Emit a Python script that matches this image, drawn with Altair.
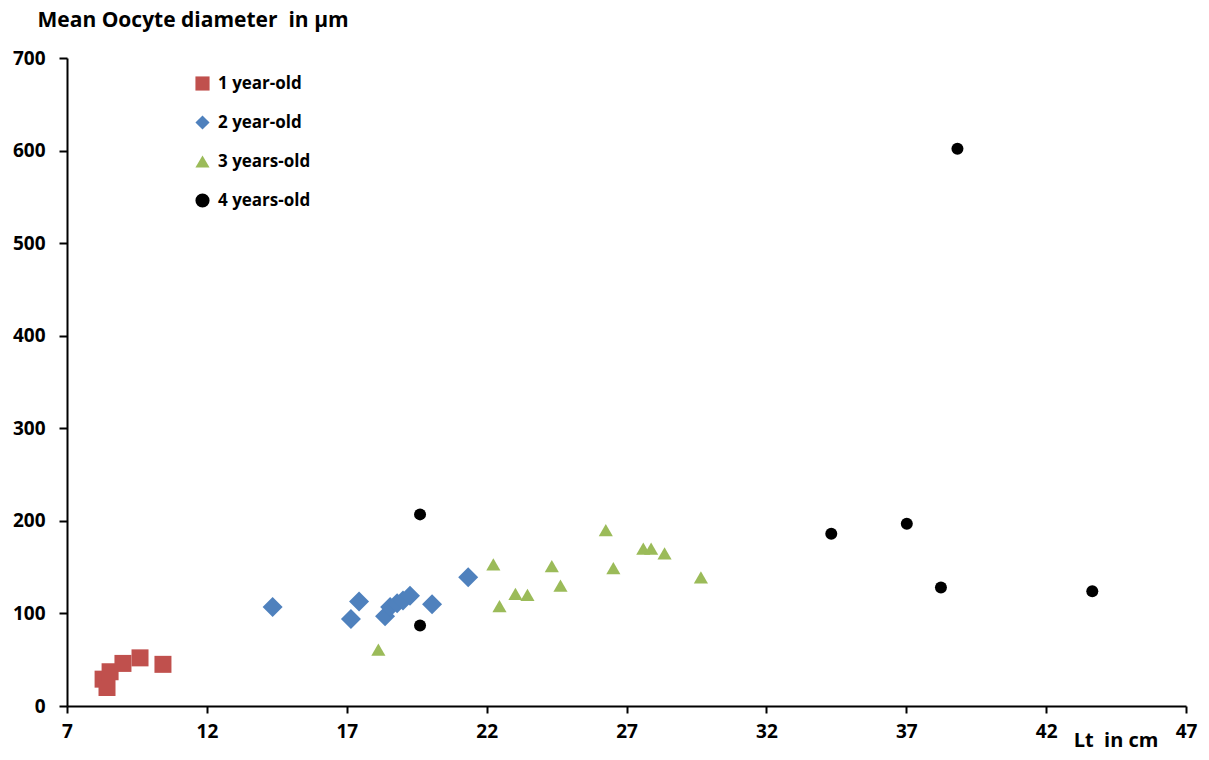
import altair as alt
import pandas as pd

groups = ["1 year-old", "2 year-old", "3 years-old", "4 years-old"]
colors = ["#C0504D", "#4F81BD", "#9BBB59", "#000000"]
shapes = ["square", "diamond", "triangle-up", "circle"]
sizes = [289, 400, 200, 144]

x1 = [8.29, 8.43, 8.54, 9.0, 9.61, 10.43]
y1 = [29, 20, 37, 46, 52, 45]

x2 = [14.35, 17.15, 17.44, 18.37, 18.55, 18.80, 19.01, 19.26, 20.05, 21.34]
y2 = [107, 94, 113, 97, 107, 111, 114, 119, 110, 139]

x3 = [18.13, 22.24, 22.46, 23.03, 23.46, 24.33, 24.64, 26.26, 26.53, 27.6, 27.88, 28.36, 29.66]
y3 = [61, 153, 108, 121, 120, 151, 130, 190, 149, 170, 170, 165, 139]

x4 = [19.62, 19.62, 34.32, 37.02, 38.24, 38.83, 43.65]
y4 = [207, 87, 186, 197, 128, 602, 124]

x_ticks = [7, 12, 17, 22, 27, 32, 37, 42, 47]
y_ticks = [0, 100, 200, 300, 400, 500, 600, 700]

rows = []
for g, xs, ys in zip(groups, [x1, x2, x3, x4], [y1, y2, y3, y4]):
    for a, b in zip(xs, ys):
        rows.append({"group": g, "Lt": a, "D": b})
df = pd.DataFrame(rows)

FONT = "Open Sans"

x_enc = alt.X("Lt:Q",
              scale=alt.Scale(domain=[7, 47], nice=False, zero=False),
              axis=alt.Axis(values=x_ticks, title="Lt\u00a0 in cm", grid=False,
                            domainColor="black", domainWidth=2, tickColor="black",
                            tickWidth=2, tickSize=7, labelPadding=9,
                            labelFont=FONT, labelFontSize=19, labelFontWeight="bold",
                            labelColor="black",
                            titleFont=FONT, titleFontSize=20, titleFontWeight="bold",
                            titleColor="black", titleX=1091, titleY=34,
                            titleAlign="right", titleBaseline="middle"))
y_enc = alt.Y("D:Q",
              scale=alt.Scale(domain=[0, 700], nice=False),
              axis=alt.Axis(values=y_ticks, title="Mean Oocyte diameter\u00a0 in µm", grid=False,
                            domainColor="black", domainWidth=2, tickColor="black",
                            tickWidth=2, tickSize=8, labelPadding=14,
                            labelFont=FONT, labelFontSize=19, labelFontWeight="bold",
                            labelColor="black",
                            titleFont=FONT, titleFontSize=21, titleFontWeight="bold",
                            titleColor="black", titleAngle=0, titleX=-30, titleY=-38,
                            titleAlign="left", titleBaseline="middle"))
color_enc = alt.Color("group:N", scale=alt.Scale(domain=groups, range=colors),
                      legend=alt.Legend(title=None, orient="none", legendX=127, legendY=17,
                                        labelFont=FONT, labelFontSize=17,
                                        labelFontWeight="bold", labelColor="black",
                                        symbolSize=200, rowPadding=21, labelOffset=7))
shape_enc = alt.Shape("group:N", scale=alt.Scale(domain=groups, range=shapes))

layers = []
for g, s in zip(groups, sizes):
    layers.append(
        alt.Chart(df).transform_filter(alt.datum.group == g)
        .mark_point(filled=True, opacity=1, strokeWidth=0, size=s)
        .encode(x=x_enc, y=y_enc, color=color_enc, shape=shape_enc)
    )

chart = alt.layer(*layers).properties(
    width=1119, height=648,
    autosize=alt.AutoSizeParams(type="none"),
    padding={"left": 59, "top": 50, "right": 15, "bottom": 46},
).configure_view(stroke=None).configure_axis(labelFlush=False)

chart.save("out.html", embed_options={"renderer": "svg", "actions": False})
